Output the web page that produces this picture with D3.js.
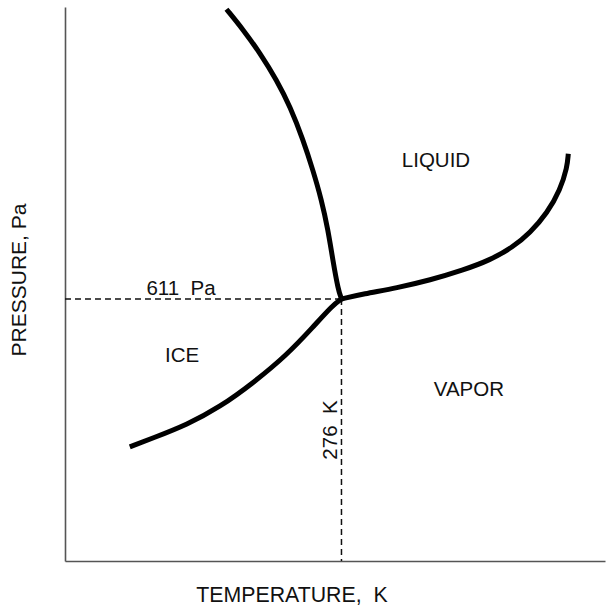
<!DOCTYPE html>
<html><head><meta charset="utf-8">
<script src="https://cdn.jsdelivr.net/npm/d3@7"></script>
<style>body{margin:0;background:#fff}svg{display:block}text{font-family:"Liberation Sans",Arial,sans-serif;fill:#111;white-space:pre}</style>
</head><body>
<svg id="c" width="609" height="611"></svg>
<script>
// Abstract coordinates (no ticks on the original), 0..100 on both axes
const triplePoint = [51.2, 47.3];
const fusionCurve = [[29.9,99.6],[33.0,95.9],[36.1,91.7],[39.2,86.8],[41.7,82.0],[44.1,76.0],[45.9,70.6],[47.5,65.2],[48.7,59.8],[49.6,54.3],[50.6,48.9],[51.2,47.3]];
const vaporCurve = [[51.2,47.3],[55.2,48.2],[61.5,49.3],[67.6,50.7],[73.7,52.5],[78.7,54.3],[83.0,56.7],[86.1,59.2],[89.3,62.8],[91.7,67.0],[93.0,71.1],[93.2,73.5]];
const sublimationCurve = [[12.0,20.6],[16.3,22.2],[22.6,24.6],[28.7,27.8],[34.8,32.1],[41.1,37.2],[45.9,42.2],[49.6,46.2],[51.2,47.3]];
const regionLabels = [{t:"LIQUID",x:68.7,y:71.1},{t:"ICE",x:21.7,y:35.9},{t:"VAPOR",x:74.8,y:29.8}];
const pressureLabel = "611  Pa";
const temperatureLabel = "276  K";
const xTitle = "TEMPERATURE,  K";
const yTitle = "PRESSURE, Pa";

const svg = d3.select("#c");
const x = d3.scaleLinear().domain([0,100]).range([65,605]);
const y = d3.scaleLinear().domain([0,100]).range([561,7]);

// axes (plain lines, no ticks)
svg.append("g").attr("transform",`translate(0,${y(0)})`)
  .call(d3.axisBottom(x).ticks(0).tickSize(0).tickSizeOuter(0))
  .call(g=>g.select(".domain").attr("stroke","#555").attr("stroke-width",1.6));
svg.append("g").attr("transform",`translate(${x(0)},0)`)
  .call(d3.axisLeft(y).ticks(0).tickSize(0).tickSizeOuter(0))
  .call(g=>g.select(".domain").attr("stroke","#555").attr("stroke-width",1.6));

// dashed guide lines
svg.append("line").attr("x1",x(0)).attr("x2",x(triplePoint[0])).attr("y1",y(triplePoint[1])).attr("y2",y(triplePoint[1]))
  .attr("stroke","#111").attr("stroke-width",1.5).attr("stroke-dasharray","6,4");
svg.append("line").attr("x1",x(triplePoint[0])).attr("x2",x(triplePoint[0])).attr("y1",y(triplePoint[1])).attr("y2",y(0))
  .attr("stroke","#111").attr("stroke-width",1.5).attr("stroke-dasharray","6,4");

const line = d3.line().x(d=>x(d[0])).y(d=>y(d[1])).curve(d3.curveBasis);
[fusionCurve,vaporCurve,sublimationCurve].forEach(c=>{
  svg.append("path").attr("d",line(c)).attr("fill","none").attr("stroke","#000")
    .attr("stroke-width",5).attr("stroke-linejoin","round");
});

// labels
regionLabels.forEach(l=>{
  svg.append("text").attr("x",x(l.x)).attr("y",y(l.y)).attr("text-anchor","middle")
    .attr("font-size",20.5).text(l.t);
});
svg.append("text").attr("x",181).attr("y",295).attr("text-anchor","middle").attr("font-size",20.5).text(pressureLabel);
svg.append("text").attr("transform",`translate(337,430) rotate(-90)`).attr("text-anchor","middle").attr("font-size",20.5).text(temperatureLabel);
svg.append("text").attr("x",292).attr("y",602).attr("text-anchor","middle").attr("font-size",21.3).text(xTitle);
svg.append("text").attr("transform",`translate(26,280) rotate(-90)`).attr("text-anchor","middle").attr("font-size",21).text(yTitle);
</script>
</body></html>
